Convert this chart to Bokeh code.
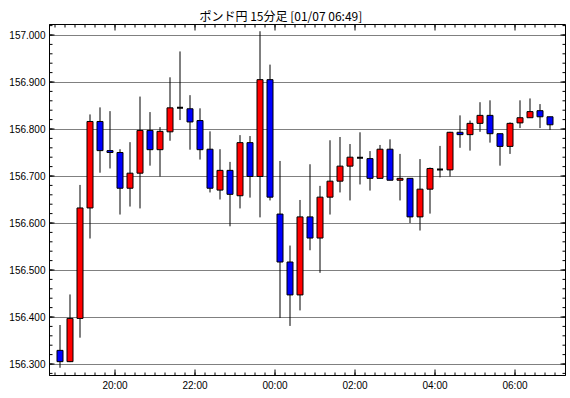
from bokeh.plotting import figure
from bokeh.models import Range1d, FixedTicker, NumeralTickFormatter, ColumnDataSource
from bokeh.embed import file_html
from bokeh.resources import INLINE

title_text = "ポンド円 15分足 [01/07 06:49]"

# 15-minute candles starting 18:30, ending 06:45
times = []
h, m = 18, 30
for _ in range(50):
    times.append("%02d:%02d" % (h, m))
    m += 15
    if m == 60:
        m = 0
        h = (h + 1) % 24

opens = [156.329, 156.305, 156.397, 156.632, 156.816, 156.754, 156.750, 156.674, 156.706, 156.797,
         156.756, 156.794, 156.845, 156.843, 156.818, 156.757, 156.670, 156.712, 156.658, 156.771,
         156.699, 156.905, 156.619, 156.517, 156.447, 156.613, 156.568, 156.655, 156.689, 156.721,
         156.739, 156.737, 156.695, 156.757, 156.691, 156.695, 156.613, 156.672, 156.714, 156.713,
         156.793, 156.788, 156.812, 156.829, 156.790, 156.763, 156.813, 156.824, 156.839, 156.826]
highs = [156.383, 156.448, 156.681, 156.831, 156.846, 156.838, 156.757, 156.772, 156.869, 156.836,
         156.804, 156.910, 156.965, 156.872, 156.844, 156.795, 156.757, 156.730, 156.787, 156.785,
         157.008, 156.937, 156.732, 156.552, 156.649, 156.725, 156.679, 156.776, 156.783, 156.768,
         156.793, 156.753, 156.766, 156.778, 156.747, 156.695, 156.736, 156.718, 156.764, 156.794,
         156.829, 156.818, 156.857, 156.861, 156.790, 156.814, 156.861, 156.865, 156.853, 156.826]
lows = [156.292, 156.304, 156.356, 156.567, 156.707, 156.716, 156.618, 156.635, 156.631, 156.722,
        156.699, 156.775, 156.819, 156.756, 156.735, 156.665, 156.650, 156.593, 156.631, 156.654,
        156.612, 156.648, 156.398, 156.381, 156.414, 156.542, 156.494, 156.618, 156.665, 156.648,
        156.682, 156.669, 156.695, 156.691, 156.648, 156.600, 156.584, 156.620, 156.697, 156.699,
        156.760, 156.754, 156.794, 156.771, 156.722, 156.747, 156.802, 156.824, 156.802, 156.798]
closes = [156.305, 156.397, 156.632, 156.816, 156.754, 156.750, 156.674, 156.706, 156.797, 156.756,
          156.795, 156.845, 156.845, 156.815, 156.756, 156.674, 156.712, 156.661, 156.771, 156.699,
          156.905, 156.655, 156.517, 156.447, 156.613, 156.568, 156.655, 156.689, 156.721, 156.740,
          156.739, 156.695, 156.757, 156.691, 156.695, 156.613, 156.672, 156.716, 156.714, 156.793,
          156.788, 156.812, 156.829, 156.790, 156.763, 156.812, 156.824, 156.837, 156.826, 156.809]

x_tick_labels = ["20:00", "22:00", "00:00", "02:00", "04:00", "06:00"]
y_ticks = [156.3, 156.4, 156.5, 156.6, 156.7, 156.8, 156.9, 157.0]

n = len(times)
xs = [i + 0.5 for i in range(n)]
tops = [max(o, c) for o, c in zip(opens, closes)]
bottoms = [min(o, c) for o, c in zip(opens, closes)]
colors = []
lws = []
for o, c in zip(opens, closes):
    if c > o:
        colors.append("#ff0000"); lws.append(1)
    elif c < o:
        colors.append("#0000ff"); lws.append(1)
    else:
        colors.append("#000000"); lws.append(2)

src = ColumnDataSource(dict(x=xs, o=opens, h=highs, l=lows, c=closes,
                            top=tops, bottom=bottoms, color=colors, lw=lws))

FW, FH = 516, 351          # plot-frame size in px
X0 = -0.55
X1 = X0 + 51.6
PXY = 470.0                # px per price unit
Y1 = 157.0 + 10.5 / PXY
Y0 = Y1 - FH / PXY
PXX = FW / (X1 - X0)

p = figure(width=570, height=398, output_backend="svg", toolbar_location=None,
           x_range=Range1d(X0, X1), y_range=Range1d(Y0, Y1),
           min_border_left=49, min_border_right=5, min_border_top=24, min_border_bottom=23)
p.background_fill_color = "white"
p.border_fill_color = "white"
p.outline_line_color = "black"
p.outline_line_width = 1

p.title.text = title_text
p.title.align = "left"
p.title.offset = 150
p.title.text_font = "Noto Sans CJK JP"
p.title.text_font_size = "12px"
p.title.text_font_style = "normal"
p.title.text_color = "black"
p.title.standoff = 2

major_x = [times.index(t) for t in x_tick_labels]
minor_x = list(range(n + 1))
minor_y = [round(156.28 + 0.02 * k, 2) for k in range(38)]


def style(ax):
    ax.axis_line_color = "black"
    ax.axis_line_width = 1
    ax.major_tick_in = 0
    ax.major_tick_out = 0
    ax.minor_tick_in = 0
    ax.minor_tick_out = 0
    ax.major_label_text_color = "black"
    ax.major_label_text_font = "Liberation Sans"
    ax.major_label_text_font_size = "10px"


xa = p.xaxis[0]
xa.ticker = FixedTicker(ticks=major_x, minor_ticks=[])
xa.major_label_overrides = {k: lab for k, lab in zip(major_x, x_tick_labels)}
style(xa)
xa.major_label_standoff = 4

ya = p.yaxis[0]
ya.ticker = FixedTicker(ticks=y_ticks, minor_ticks=[])
ya.formatter = NumeralTickFormatter(format="0.000")
style(ya)
ya.major_label_standoff = 4

p.xgrid.visible = False
p.ygrid.visible = False

# dotted horizontal grid lines at the labelled prices
p.hspan(y=y_ticks, line_color="black", line_dash="1 1", line_width=1)

# inward tick marks on all four frame edges, from the tick lists
tx0, ty0, tx1, ty1 = [], [], [], []
for tks, ln in ((minor_x, 3), (major_x, 6)):
    for t in tks:
        tx0 += [t, t]; tx1 += [t, t]
        ty0 += [Y0, Y1]; ty1 += [Y0 + ln / PXY, Y1 - ln / PXY]
for tks, ln in ((minor_y, 3), (y_ticks, 5)):
    for t in tks:
        ty0 += [t, t]; ty1 += [t, t]
        tx0 += [X0, X1]; tx1 += [X0 + ln / PXX, X1 - ln / PXX]
p.segment(x0=tx0, y0=ty0, x1=tx1, y1=ty1, line_color="black", line_width=1)

p.segment(x0="x", y0="l", x1="x", y1="h", source=src, line_color="black", line_width=1)
p.vbar(x="x", width=0.6, top="top", bottom="bottom", source=src,
       fill_color="color", line_color="black", line_width="lw")

open("out.html", "w").write(file_html(p, INLINE))
